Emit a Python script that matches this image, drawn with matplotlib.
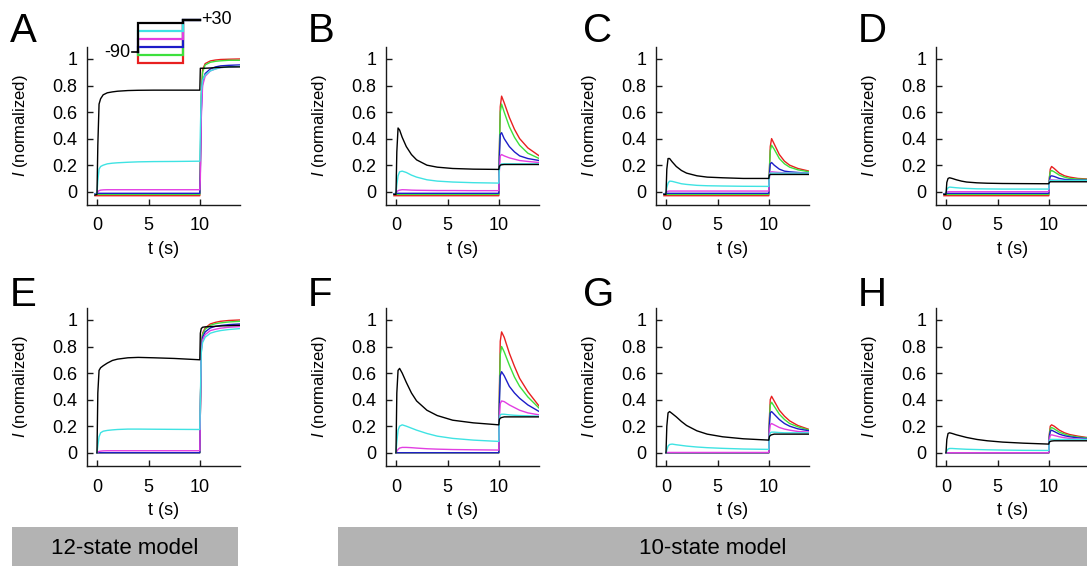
import numpy as np
import matplotlib
matplotlib.use("Agg")
import matplotlib.pyplot as plt
from matplotlib.patches import Rectangle

plt.rcParams['font.family'] = ['Liberation Sans', 'DejaVu Sans']
plt.rcParams['mathtext.fontset'] = 'custom'
plt.rcParams['mathtext.rm'] = 'Liberation Sans'
plt.rcParams['mathtext.it'] = 'Liberation Sans:italic'

nan = np.nan

# ---------------- data ----------------
T = [-0.2, 0.0, 0.08, 0.2, 0.35, 0.6, 1.0, 1.5, 2.0, 3.0, 4.0, 5.5, 7.5, 9.98,
     10.03, 10.12, 10.25, 10.5, 11.0, 11.5, 12.0, 12.8, 13.9]

TRACE_NAMES = ['black', 'cyan', 'magenta', 'blue', 'green', 'red']
TRACE_COLORS = ['#000000', '#3fe3e3', '#e23ee2', '#1c1cc8', '#3ce03c', '#e82020']

PANEL_A = [
    [-0.025, -0.02, 0.35, 0.66, 0.70, 0.73, 0.745, 0.752, 0.757, 0.762, 0.764, 0.765, 0.765, 0.765,
     0.93, 0.93, 0.93, 0.93, 0.932, 0.935, 0.937, 0.94, 0.94],
    [-0.02, -0.015, 0.08, 0.17, 0.19, 0.20, 0.21, 0.215, 0.218, 0.222, 0.225, 0.227, 0.228, 0.23,
     0.45, 0.75, 0.84, 0.88, 0.91, 0.925, 0.935, 0.94, 0.945],
    [-0.02, -0.015, 0.0, 0.008, 0.012, 0.014, 0.015, 0.015, 0.015, 0.015, 0.015, 0.015, 0.015, 0.015,
     0.1, 0.55, 0.8, 0.87, 0.91, 0.925, 0.935, 0.94, 0.945],
    [-0.015, -0.012, -0.012, -0.012, -0.012, -0.012, -0.012, -0.012, -0.012, -0.012, -0.012, -0.012, -0.012, -0.012,
     0.15, 0.6, 0.83, 0.89, 0.925, 0.94, 0.948, 0.952, 0.955],
    [-0.02, -0.02, -0.02, -0.02, -0.02, -0.02, -0.02, -0.02, -0.02, -0.02, -0.02, -0.02, -0.02, -0.02,
     0.2, 0.7, 0.9, 0.955, 0.975, 0.982, 0.986, 0.99, 0.99],
    [-0.03, -0.03, -0.03, -0.03, -0.03, -0.03, -0.03, -0.03, -0.03, -0.03, -0.03, -0.03, -0.03, -0.03,
     0.2, 0.72, 0.92, 0.965, 0.985, 0.992, 0.996, 0.998, 1.0],
]

PANEL_B = [
    [-0.02, -0.02, 0.30, 0.48, 0.465, 0.41, 0.34, 0.28, 0.24, 0.20, 0.185, 0.175, 0.17, 0.168,
     0.19, 0.2, 0.203, 0.205, 0.205, 0.205, 0.205, 0.205, 0.205],
    [-0.02, -0.015, 0.05, 0.12, 0.15, 0.155, 0.145, 0.125, 0.11, 0.09, 0.08, 0.073, 0.068, 0.065,
     0.17, 0.2, 0.21, 0.21, 0.21, 0.21, 0.21, 0.21, 0.21],
    [-0.02, -0.015, 0.0, 0.008, 0.012, 0.015, 0.014, 0.012, 0.011, 0.01, 0.009, 0.009, 0.008, 0.008,
     0.15, 0.27, 0.28, 0.27, 0.255, 0.245, 0.235, 0.228, 0.22],
    [-0.015, -0.012, -0.012, -0.012, -0.012, -0.012, -0.012, -0.012, -0.012, -0.012, -0.012, -0.012, -0.012, -0.012,
     0.25, 0.43, 0.445, 0.40, 0.34, 0.30, 0.27, 0.25, 0.235],
    [-0.02, -0.02, -0.02, -0.02, -0.02, -0.02, -0.02, -0.02, -0.02, -0.02, -0.02, -0.02, -0.02, -0.02,
     0.3, 0.6, 0.66, 0.60, 0.49, 0.41, 0.35, 0.29, 0.25],
    [-0.03, -0.03, -0.03, -0.03, -0.03, -0.03, -0.03, -0.03, -0.03, -0.03, -0.03, -0.03, -0.03, -0.03,
     0.3, 0.64, 0.72, 0.67, 0.56, 0.47, 0.40, 0.33, 0.27],
]

PANEL_C = [
    [-0.02, -0.02, 0.17, 0.25, 0.25, 0.225, 0.19, 0.16, 0.14, 0.12, 0.11, 0.105, 0.1, 0.1,
     0.125, 0.13, 0.13, 0.13, 0.13, 0.13, 0.13, 0.13, 0.13],
    [-0.02, -0.015, 0.03, 0.065, 0.08, 0.078, 0.07, 0.06, 0.055, 0.048, 0.045, 0.043, 0.041, 0.04,
     0.12, 0.14, 0.14, 0.14, 0.14, 0.14, 0.14, 0.14, 0.14],
    [-0.02, -0.015, 0.0, 0.004, 0.005, 0.005, 0.005, 0.005, 0.005, 0.005, 0.005, 0.005, 0.005, 0.005,
     0.1, 0.145, 0.15, 0.148, 0.145, 0.142, 0.14, 0.14, 0.14],
    [-0.015, -0.012, -0.012, -0.012, -0.012, -0.012, -0.012, -0.012, -0.012, -0.012, -0.012, -0.012, -0.012, -0.012,
     0.12, 0.21, 0.22, 0.2, 0.17, 0.155, 0.15, 0.145, 0.14],
    [-0.02, -0.02, -0.02, -0.02, -0.02, -0.02, -0.02, -0.02, -0.02, -0.02, -0.02, -0.02, -0.02, -0.02,
     0.15, 0.31, 0.35, 0.32, 0.25, 0.21, 0.185, 0.165, 0.15],
    [-0.03, -0.03, -0.03, -0.03, -0.03, -0.03, -0.03, -0.03, -0.03, -0.03, -0.03, -0.03, -0.03, -0.03,
     0.15, 0.34, 0.40, 0.36, 0.28, 0.23, 0.2, 0.175, 0.155],
]

PANEL_D = [
    [-0.02, -0.02, 0.07, 0.1, 0.105, 0.1, 0.09, 0.08, 0.073, 0.067, 0.064, 0.062, 0.061, 0.06,
     0.07, 0.075, 0.075, 0.075, 0.075, 0.075, 0.075, 0.075, 0.075],
    [-0.02, -0.015, 0.015, 0.03, 0.035, 0.033, 0.03, 0.027, 0.025, 0.022, 0.021, 0.02, 0.02, 0.02,
     0.075, 0.085, 0.085, 0.085, 0.085, 0.085, 0.085, 0.085, 0.085],
    [-0.02, -0.015, -0.002, 0.0, 0.0, 0.0, 0.0, 0.0, 0.0, 0.0, 0.0, 0.0, 0.0, 0.0,
     0.07, 0.09, 0.09, 0.088, 0.085, 0.083, 0.082, 0.08, 0.08],
    [-0.015, -0.012, -0.012, -0.012, -0.012, -0.012, -0.012, -0.012, -0.012, -0.012, -0.012, -0.012, -0.012, -0.012,
     0.08, 0.115, 0.12, 0.115, 0.1, 0.093, 0.09, 0.088, 0.087],
    [-0.02, -0.02, -0.02, -0.02, -0.02, -0.02, -0.02, -0.02, -0.02, -0.02, -0.02, -0.02, -0.02, -0.02,
     0.1, 0.15, 0.16, 0.15, 0.125, 0.11, 0.1, 0.095, 0.092],
    [-0.03, -0.03, -0.03, -0.03, -0.03, -0.03, -0.03, -0.03, -0.03, -0.03, -0.03, -0.03, -0.03, -0.03,
     0.1, 0.17, 0.19, 0.175, 0.14, 0.12, 0.11, 0.1, 0.095],
]

PANEL_E = [
    [nan, 0.0, 0.45, 0.62, 0.64, 0.655, 0.675, 0.695, 0.705, 0.715, 0.718, 0.715, 0.71, 0.70,
     0.9, 0.935, 0.945, 0.948, 0.95, 0.952, 0.955, 0.957, 0.96],
    [nan, 0.0, 0.05, 0.12, 0.15, 0.162, 0.168, 0.172, 0.175, 0.178, 0.178, 0.177, 0.176, 0.175,
     0.4, 0.75, 0.83, 0.87, 0.9, 0.912, 0.92, 0.928, 0.935],
    [nan, 0.0, 0.005, 0.01, 0.012, 0.014, 0.015, 0.015, 0.015, 0.015, 0.015, 0.015, 0.015, 0.015,
     0.3, 0.76, 0.85, 0.89, 0.92, 0.93, 0.938, 0.945, 0.95],
    [nan, 0.0, 0.0, 0.0, 0.0, 0.0, 0.0, 0.0, 0.0, 0.0, 0.0, 0.0, 0.0, 0.0,
     0.3, 0.78, 0.87, 0.91, 0.94, 0.952, 0.958, 0.965, 0.97],
    [nan, 0.0, 0.0, 0.0, 0.0, 0.0, 0.0, 0.0, 0.0, 0.0, 0.0, 0.0, 0.0, 0.0,
     0.3, 0.8, 0.89, 0.93, 0.96, 0.972, 0.978, 0.985, 0.99],
    [nan, 0.0, 0.0, 0.0, 0.0, 0.0, 0.0, 0.0, 0.0, 0.0, 0.0, 0.0, 0.0, 0.0,
     0.3, 0.82, 0.9, 0.94, 0.97, 0.982, 0.99, 0.996, 1.0],
]

PANEL_F = [
    [nan, 0.0, 0.45, 0.62, 0.635, 0.6, 0.53, 0.45, 0.39, 0.32, 0.28, 0.245, 0.225, 0.21,
     0.25, 0.26, 0.265, 0.27, 0.27, 0.27, 0.27, 0.27, 0.27],
    [nan, 0.0, 0.08, 0.17, 0.2, 0.21, 0.2, 0.185, 0.17, 0.145, 0.125, 0.108, 0.095, 0.085,
     0.25, 0.285, 0.29, 0.29, 0.285, 0.282, 0.28, 0.278, 0.275],
    [nan, 0.0, 0.01, 0.025, 0.035, 0.04, 0.04, 0.038, 0.035, 0.03, 0.027, 0.024, 0.022, 0.02,
     0.25, 0.37, 0.39, 0.385, 0.36, 0.34, 0.32, 0.3, 0.285],
    [nan, 0.0, 0.0, 0.0, 0.0, 0.0, 0.0, 0.0, 0.0, 0.0, 0.0, 0.0, 0.0, 0.0,
     0.35, 0.58, 0.61, 0.58, 0.5, 0.45, 0.41, 0.36, 0.31],
    [nan, 0.0, 0.0, 0.0, 0.0, 0.0, 0.0, 0.0, 0.0, 0.0, 0.0, 0.0, 0.0, 0.0,
     0.4, 0.74, 0.80, 0.76, 0.66, 0.57, 0.5, 0.42, 0.335],
    [nan, 0.0, 0.0, 0.0, 0.0, 0.0, 0.0, 0.0, 0.0, 0.0, 0.0, 0.0, 0.0, 0.0,
     0.45, 0.84, 0.91, 0.87, 0.75, 0.65, 0.56, 0.46, 0.35],
]

PANEL_G = [
    [nan, 0.0, 0.2, 0.3, 0.31, 0.295, 0.27, 0.235, 0.205, 0.165, 0.14, 0.12, 0.105, 0.095,
     0.12, 0.13, 0.135, 0.14, 0.14, 0.14, 0.14, 0.14, 0.14],
    [nan, 0.0, 0.02, 0.05, 0.062, 0.065, 0.06, 0.055, 0.05, 0.043, 0.038, 0.033, 0.028, 0.025,
     0.12, 0.15, 0.155, 0.155, 0.152, 0.15, 0.15, 0.15, 0.15],
    [nan, 0.0, 0.002, 0.002, 0.002, 0.002, 0.002, 0.002, 0.002, 0.002, 0.002, 0.002, 0.002, 0.002,
     0.15, 0.21, 0.22, 0.21, 0.19, 0.178, 0.17, 0.16, 0.155],
    [nan, 0.0, 0.0, 0.0, 0.0, 0.0, 0.0, 0.0, 0.0, 0.0, 0.0, 0.0, 0.0, 0.0,
     0.2, 0.3, 0.31, 0.29, 0.25, 0.22, 0.2, 0.18, 0.165],
    [nan, 0.0, 0.0, 0.0, 0.0, 0.0, 0.0, 0.0, 0.0, 0.0, 0.0, 0.0, 0.0, 0.0,
     0.22, 0.36, 0.38, 0.35, 0.29, 0.25, 0.22, 0.195, 0.17],
    [nan, 0.0, 0.0, 0.0, 0.0, 0.0, 0.0, 0.0, 0.0, 0.0, 0.0, 0.0, 0.0, 0.0,
     0.25, 0.4, 0.425, 0.39, 0.32, 0.275, 0.24, 0.205, 0.175],
]

PANEL_H = [
    [nan, 0.0, 0.1, 0.145, 0.15, 0.145, 0.135, 0.125, 0.115, 0.1, 0.09, 0.08, 0.072, 0.065,
     0.08, 0.085, 0.088, 0.09, 0.09, 0.09, 0.09, 0.09, 0.09],
    [nan, 0.0, 0.015, 0.028, 0.032, 0.032, 0.03, 0.028, 0.026, 0.024, 0.022, 0.02, 0.018, 0.017,
     0.09, 0.1, 0.1, 0.1, 0.1, 0.1, 0.1, 0.1, 0.1],
    [nan, 0.0, 0.0, 0.0, 0.0, 0.0, 0.0, 0.0, 0.0, 0.0, 0.0, 0.0, 0.0, 0.0,
     0.1, 0.13, 0.135, 0.13, 0.12, 0.113, 0.108, 0.104, 0.1],
    [nan, 0.0, 0.0, 0.0, 0.0, 0.0, 0.0, 0.0, 0.0, 0.0, 0.0, 0.0, 0.0, 0.0,
     0.12, 0.16, 0.17, 0.16, 0.14, 0.128, 0.12, 0.112, 0.105],
    [nan, 0.0, 0.0, 0.0, 0.0, 0.0, 0.0, 0.0, 0.0, 0.0, 0.0, 0.0, 0.0, 0.0,
     0.13, 0.18, 0.19, 0.18, 0.155, 0.14, 0.128, 0.118, 0.11],
    [nan, 0.0, 0.0, 0.0, 0.0, 0.0, 0.0, 0.0, 0.0, 0.0, 0.0, 0.0, 0.0, 0.0,
     0.14, 0.2, 0.21, 0.2, 0.17, 0.15, 0.137, 0.125, 0.112],
]

PANEL_LETTERS = ['A', 'B', 'C', 'D', 'E', 'F', 'G', 'H']
PANELS = [PANEL_A, PANEL_B, PANEL_C, PANEL_D, PANEL_E, PANEL_F, PANEL_G, PANEL_H]

Y_TICKS = [0, 0.2, 0.4, 0.6, 0.8, 1]
Y_TICK_LABELS = ['0', '0.2', '0.4', '0.6', '0.8', '1']
X_TICKS = [0, 5, 10]
X_TICK_LABELS = ['0', '5', '10']

# voltage protocol (inset in A)
PROTO_PREPULSE_MV = [20, -10, -40, -70, -100, -130]
PROTO_HOLD_MV = -90
PROTO_TEST_MV = 30
PROTO_TIMES = [0, 10, 13.8]

MODEL_LABELS = ['12-state model', '10-state model']

# ---------------- layout ----------------
W, H = 1087, 566
fig = plt.figure(figsize=(W / 100, H / 100), dpi=100)

def fx(px):
    return px / W

def fy(py):
    return 1 - py / H

col_left = [87, 386, 656, 936]
row_top = [47, 308]
ax_w, ax_h = 153, 158
letter_x = [10, 308, 583, 858]
letter_base = [42, 306]

for i, (letter, data) in enumerate(zip(PANEL_LETTERS, PANELS)):
    r, c = divmod(i, 4)
    ax = fig.add_axes([fx(col_left[c]), fy(row_top[r] + ax_h), fx(ax_w), ax_h / H])
    for name, color, vals in zip(TRACE_NAMES[::-1], TRACE_COLORS[::-1], data[::-1]):
        ax.plot(T, vals, color=color, lw=1.0, solid_joinstyle='round')
    ax.set_xlim(-0.97, 13.88)
    ax.set_ylim(-0.1, 1.09)
    ax.set_yticks(Y_TICKS)
    ax.set_yticklabels(Y_TICK_LABELS)
    ax.set_xticks(X_TICKS)
    ax.set_xticklabels(X_TICK_LABELS)
    for s in ['top', 'right']:
        ax.spines[s].set_visible(False)
    for s in ['left', 'bottom']:
        ax.spines[s].set_linewidth(1.0)
        ax.spines[s].set_color('#1a1a1a')
    ax.tick_params(direction='in', length=4, width=1.0, labelsize=13, color='#1a1a1a')
    ax.tick_params(axis='y', pad=7)
    ax.tick_params(axis='x', pad=9)
    ax.set_xlabel('t (s)', fontsize=13, labelpad=5)
    ax.set_ylabel(r'$I$ (normalized)', fontsize=12, labelpad=16)
    fig.text(fx(letter_x[c]), fy(letter_base[r]), letter, fontsize=29,
             ha='left', va='baseline')

# voltage protocol inset
pax = fig.add_axes([fx(138), fy(63), fx(200 - 138), (63 - 20) / H])
pax.set_xlim(PROTO_TIMES[0], PROTO_TIMES[-1])
pax.set_ylim(-130, 30)
pax.axis('off')
for v, color in list(zip(PROTO_PREPULSE_MV, TRACE_COLORS))[::-1]:
    pax.plot([PROTO_TIMES[0], PROTO_TIMES[0], PROTO_TIMES[1], PROTO_TIMES[1], PROTO_TIMES[2]],
             [PROTO_HOLD_MV, v, v, PROTO_TEST_MV, PROTO_TEST_MV],
             color=color, lw=1.6, clip_on=False, solid_joinstyle='miter')
pax.plot([-1.3, -0.2], [PROTO_HOLD_MV, PROTO_HOLD_MV], color='black', lw=1.2, clip_on=False)
pax.text(-1.6, PROTO_HOLD_MV, '-90', fontsize=13, ha='right', va='center')
pax.text(PROTO_TIMES[-1] + 0.3, PROTO_TEST_MV, '+30', fontsize=13, ha='left', va='center')

# model bars
bars = [(12, 238), (338, 1087)]
for (x0, x1), label in zip(bars, MODEL_LABELS):
    fig.patches.append(Rectangle((fx(x0), 0), fx(x1 - x0), fy(527), transform=fig.transFigure,
                                 facecolor='#b3b3b3', edgecolor='none'))
    fig.text(fx((x0 + x1) / 2), fy(548), label, fontsize=16, ha='center', va='center')

fig.savefig('out.png', dpi=100)
